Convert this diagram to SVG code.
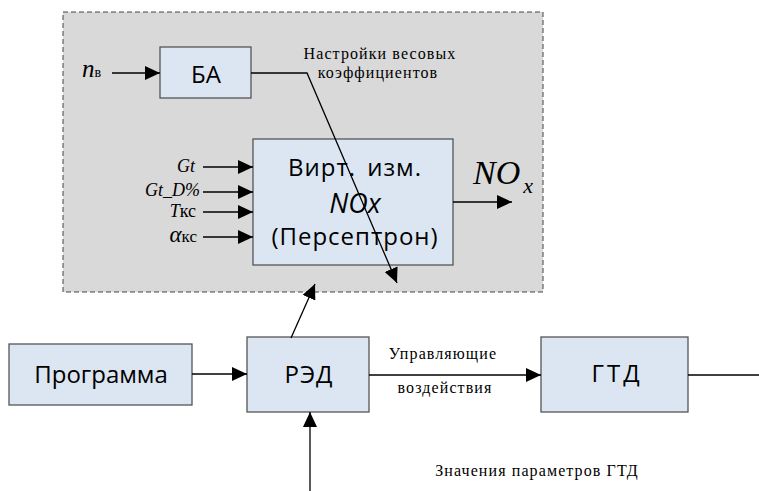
<svg xmlns="http://www.w3.org/2000/svg" width="759" height="491" viewBox="0 0 759 491">
<defs>
<style>
.box{fill:#dce6f2;stroke:#555;stroke-width:1.3}
.bt{font-family:"Open Sans","Noto Sans",sans-serif;font-size:24px;fill:#000;text-anchor:middle}
.lbl{font-family:"Liberation Serif","DejaVu Serif",serif;font-size:16px;letter-spacing:1.1px;fill:#000;text-anchor:middle}
.var{font-family:"Liberation Serif","DejaVu Serif",serif;font-size:18px;fill:#000;font-style:italic}
.sub{font-style:normal}
.ln{stroke:#000;stroke-width:1.3;fill:none}
.arr{stroke:#000;stroke-width:1.3;fill:none;marker-end:url(#ah)}
</style>
<marker id="ah" markerUnits="userSpaceOnUse" markerWidth="16" markerHeight="14" refX="15" refY="7" orient="auto">
<path d="M0,0 L15,7 L0,14 Z" fill="#000"/>
</marker>
</defs>
<rect x="0" y="0" width="759" height="491" fill="#fff"/>
<g id="region">
<rect x="63" y="12" width="480" height="280" fill="#d9d9d9" stroke="#444" stroke-width="1" stroke-dasharray="5,3"/>
</g>
<g id="ba">
<rect class="box" x="160" y="47" width="91" height="51"/>
<text class="bt" x="206" y="83">БА</text>
</g>
<g id="nox">
<rect class="box" x="253" y="139" width="200" height="126"/>
<text class="bt" x="355" y="176" style="letter-spacing:1px;word-spacing:4px">Вирт. изм.</text>
<text class="bt" x="355" y="213" style="font-style:italic;font-size:27px">NOx</text>
<text class="bt" x="355" y="245" style="letter-spacing:1px">(Персептрон)</text>
</g>
<g id="prog">
<rect class="box" x="9" y="344" width="183" height="61"/>
<text class="bt" x="101" y="383">Программа</text>
</g>
<g id="red">
<rect class="box" x="247" y="337" width="122" height="75"/>
<text class="bt" x="309" y="383" style="letter-spacing:1px">РЭД</text>
</g>
<g id="gtd">
<rect class="box" x="541" y="337" width="147" height="75"/>
<text class="bt" x="617" y="382" style="letter-spacing:3px">ГТД</text>
</g>
<g id="labels">
<text class="var" x="82" y="77" style="font-size:25px">n<tspan class="sub" style="font-size:14px">в</tspan></text>
<text class="lbl" x="380" y="59">Настройки весовых</text>
<text class="lbl" x="378" y="78">коэффициентов</text>
<text class="var" x="195" y="172" text-anchor="end">Gt</text>
<text class="var" x="200" y="196" text-anchor="end">Gt_D%</text>
<text class="var" x="196" y="217" text-anchor="end">T<tspan class="sub">кс</tspan></text>
<text class="var" x="197" y="242" text-anchor="end" style="font-size:23px">α<tspan class="sub" style="font-size:17px">кс</tspan></text>
<text class="var" x="473" y="184" style="font-size:34px">NO<tspan style="font-size:22px" dy="9" dx="3">x</tspan></text>
<text class="lbl" x="443" y="359">Управляющие</text>
<text class="lbl" x="445" y="393">воздействия</text>
<text class="lbl" x="537" y="476">Значения параметров ГТД</text>
</g>
<g id="connectors">
<line class="arr" x1="112" y1="73" x2="160" y2="73"/>
<path class="arr" d="M251,73 L307,73 L397,283"/>
<line class="arr" x1="203" y1="167" x2="253" y2="167"/>
<line class="arr" x1="203" y1="192" x2="253" y2="192"/>
<line class="arr" x1="203" y1="212" x2="253" y2="212"/>
<line class="arr" x1="203" y1="237" x2="253" y2="237"/>
<line class="arr" x1="453" y1="202" x2="512" y2="202"/>
<line class="arr" x1="291" y1="338" x2="315" y2="284"/>
<line class="arr" x1="192" y1="374" x2="247" y2="374"/>
<line class="arr" x1="310" y1="491" x2="310" y2="412"/>
<line class="arr" x1="369" y1="375" x2="541" y2="375"/>
<line class="ln" x1="688" y1="375" x2="759" y2="375"/>
</g>
</svg>
